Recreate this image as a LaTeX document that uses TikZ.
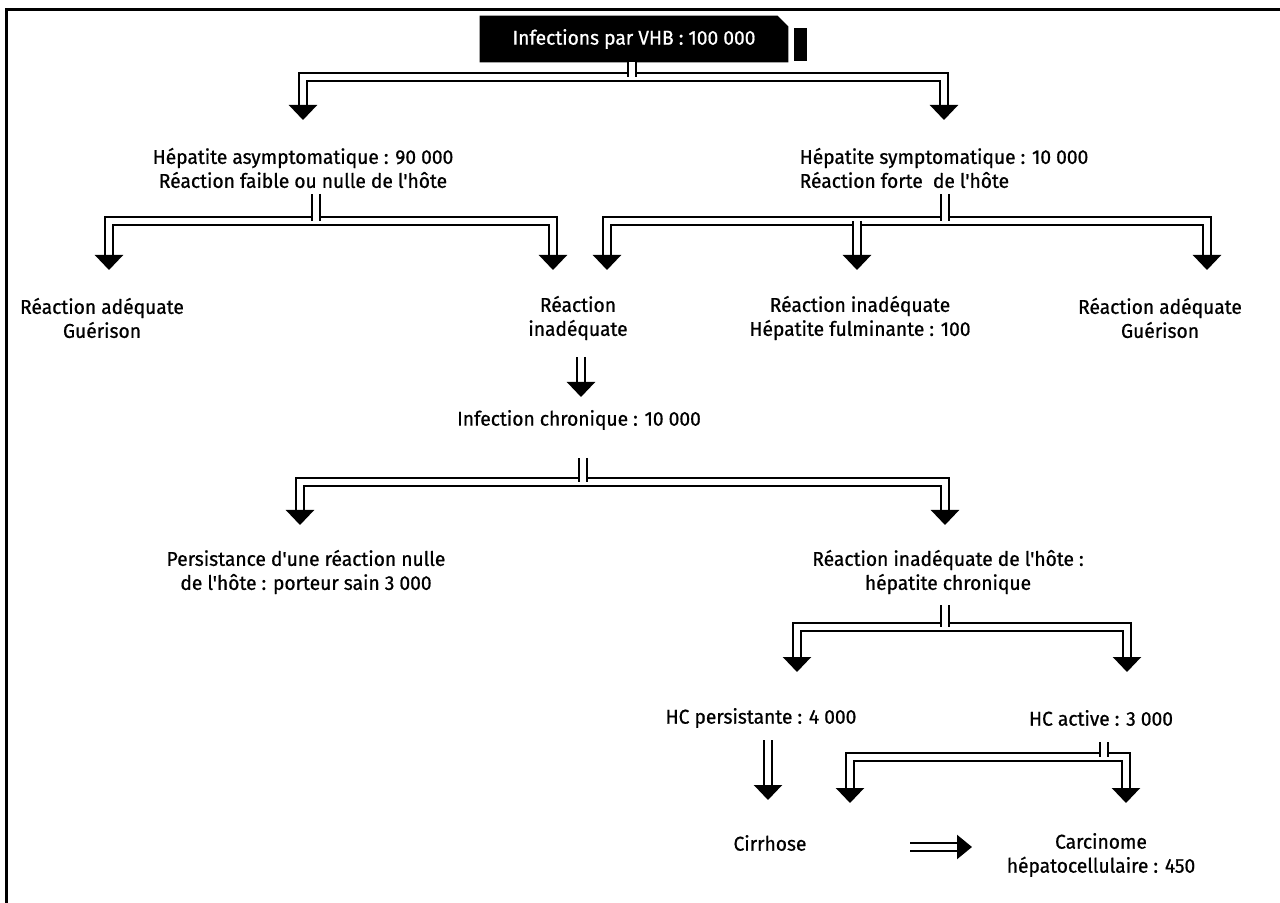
\documentclass[tikz,border=0pt]{standalone}
\usepackage{fontspec}
\newfontfamily\diagfont{Fira Sans}[FakeBold=0.8, FakeStretch=0.96]
\usetikzlibrary{arrows.meta,backgrounds}

\tikzset{
  lbl/.style={font=\diagfont\fontsize{10}{12}\selectfont, align=center, inner sep=0pt},
  dline/.style={double, double distance=2.6pt, line width=1.2pt},
  dhead/.style={-{Triangle[width=14pt,length=7.5pt]}},
  dheads/.style={{Triangle[width=14pt,length=7.5pt]}-{Triangle[width=14pt,length=7.5pt]}},
}

\begin{document}
\begin{tikzpicture}[x=0.5pt, y=-0.5pt]
\useasboundingbox (0,0) rectangle (1280,903);

% frame
\draw[line width=1.5pt] (1280,9.5) -- (6.5,9.5) -- (6.5,903);

% title
\node[lbl, text=white, minimum width=154pt, minimum height=23pt] (title) at (634,39) {Infections par VHB : 100 000};
\begin{scope}[on background layer]
\fill (title.south west) -- (title.north west) -- ([xshift=-5.5pt]title.north east)
  -- ([yshift=-5.5pt]title.north east) -- (title.south east) -- cycle;
\fill ([xshift=3pt,yshift=0.5pt]title.south east) rectangle ([xshift=9.5pt,yshift=-6pt]title.north east);
\end{scope}

% labels
\node[lbl] (asym) at (303,168) {Hépatite asymptomatique : 90 000\\Réaction faible ou nulle de l'hôte};
\node[lbl, align=left] (symp) at (944,168) {Hépatite symptomatique : 10 000\\Réaction forte\ \ de l'hôte};
\node[lbl] (adeq1) at (102,318) {Réaction adéquate\\Guérison};
\node[lbl] (inad) at (578,318) {Réaction\\inadéquate};
\node[lbl] (fulm) at (860,318) {Réaction inadéquate\\Hépatite fulminante : 100};
\node[lbl] (adeq2) at (1160,318) {Réaction adéquate\\Guérison};
\node[lbl] (chron) at (579,420) {Infection chronique : 10 000};
\node[lbl] (porteur) at (306,572) {Persistance d'une réaction nulle\\de l'hôte : porteur sain 3 000};
\node[lbl] (hepchron) at (948,572) {Réaction inadéquate de l'hôte :\\hépatite chronique};
\node[lbl] (hcp) at (761,718) {HC persistante : 4 000};
\node[lbl] (hca) at (1101,718) {HC active : 3 000};
\node[lbl] (cirr) at (770,843) {Cirrhose};
\node[lbl] (carc) at (1101,855) {Carcinome\\hépatocellulaire : 450};

% junctions
\coordinate (j1) at (632,77);
\coordinate (j2) at (316,221);
\coordinate (j3) at (945,221);
\coordinate (j4) at (583,482);
\coordinate (j5) at (945,627);
\coordinate (j6) at (1104,757);

% branches
\draw[dline, dheads, shorten <=24pt, shorten >=24pt] (asym.center) -- (asym.center |- j1)
  -- (symp.center |- j1) -- (symp.center);
\draw[dline] (title.south -| j1) -- (j1);

\draw[dline, dheads, shorten <=24pt, shorten >=24pt] ([xshift=3.5pt]adeq1.center) -- ([xshift=3.5pt]adeq1.center |- j2)
  -- ([xshift=-12.5pt]inad.center |- j2) -- ([xshift=-12.5pt]inad.center);
\draw[dline, shorten <=13pt] (asym.center -| j2) -- (j2);

\draw[dline, dheads, shorten <=24pt, shorten >=24pt] ([xshift=14.5pt]inad.center) -- ([xshift=14.5pt]inad.center |- j3)
  -- ([xshift=23.5pt]adeq2.center |- j3) -- ([xshift=23.5pt]adeq2.center);
\draw[dline, dhead, shorten >=24pt] ([xshift=-1.5pt]fulm.center |- j3) -- ([xshift=-1.5pt]fulm.center);
\draw[dline, shorten <=13pt] (symp.center -| j3) -- (j3);

\draw[dline, dhead, shorten <=19.5pt, shorten >=11.5pt] ([xshift=1.5pt]inad.center) -- ([xshift=1.5pt]inad.center |- chron.center);

\draw[dline, dheads, shorten <=23.5pt, shorten >=23.5pt] ([xshift=-3pt]porteur.center) -- ([xshift=-3pt]porteur.center |- j4)
  -- ([xshift=-1.5pt]hepchron.center |- j4) -- ([xshift=-1.5pt]hepchron.center);
\draw[dline, shorten <=19pt] (chron.center -| j4) -- (j4);

\draw[dline, dheads, shorten <=23pt, shorten >=23pt] ([xshift=18pt]hcp.center) -- ([xshift=18pt]hcp.center |- j5)
  -- ([xshift=13pt]hca.center |- j5) -- ([xshift=13pt]hca.center);
\draw[dline, shorten <=16.5pt] (hepchron.center -| j5) -- (j5);

\draw[dline, dhead, shorten <=11pt, shorten >=21.5pt] ([xshift=3.5pt]hcp.center) -- ([xshift=3.5pt]hcp.center |- cirr.center);

\draw[dline, dheads, shorten <=20pt, shorten >=26pt] ([xshift=40pt]cirr.center) -- ([xshift=40pt]cirr.center |- j6)
  -- ([xshift=12.5pt]carc.center |- j6) -- ([xshift=12.5pt]carc.center);
\draw[dline, shorten <=12pt] (hca.center -| j6) -- (j6);

\draw[dline, -{Triangle[width=12pt,length=7.5pt]}, shorten <=70pt, shorten >=64.5pt]
  ([yshift=-2pt]cirr.center) -- ([yshift=-2pt]cirr.center -| carc.center);
\end{tikzpicture}
\end{document}
